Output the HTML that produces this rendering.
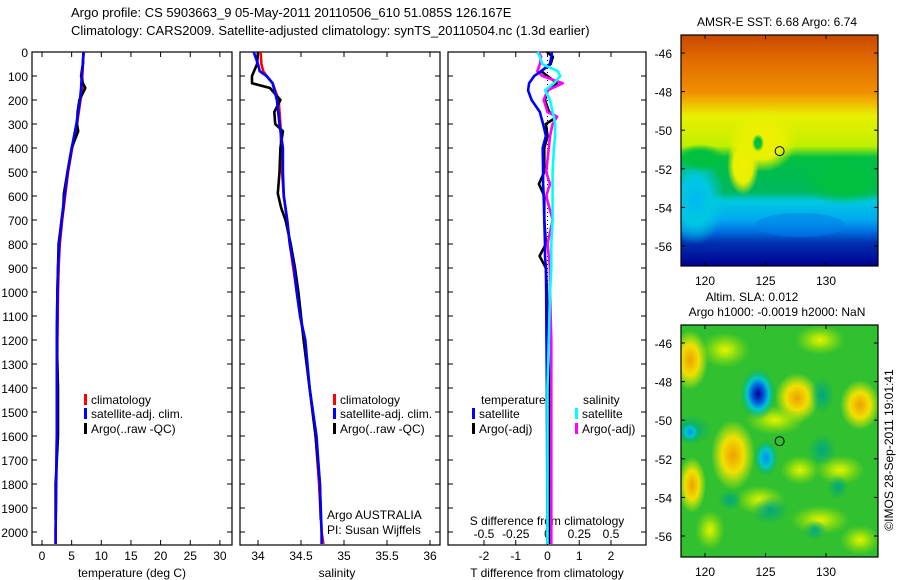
<!DOCTYPE html>
<html><head><meta charset="utf-8"><style>
body{margin:0;background:#fff;}
svg{display:block;font-family:"Liberation Sans",sans-serif;}
</style></head><body>
<svg id="c" width="900" height="580" viewBox="0 0 900 580">
<defs>
<linearGradient id="sstg" x1="0" y1="0" x2="0" y2="1">
<stop offset="0" stop-color="#c84800"/><stop offset="0.1" stop-color="#e06800"/>
<stop offset="0.25" stop-color="#f09000"/><stop offset="0.3" stop-color="#f0c000"/>
<stop offset="0.35" stop-color="#e8f000"/><stop offset="0.48" stop-color="#c0f000"/>
<stop offset="0.53" stop-color="#00c040"/><stop offset="0.68" stop-color="#00b860"/>
<stop offset="0.72" stop-color="#00c8e0"/><stop offset="0.8" stop-color="#00a8f0"/>
<stop offset="0.85" stop-color="#0070e0"/><stop offset="0.9" stop-color="#0030b0"/>
<stop offset="1" stop-color="#000090"/></linearGradient>
<radialGradient id="yb"><stop offset="0" stop-color="#f0f000"/><stop offset="0.6" stop-color="#e8f000"/><stop offset="1" stop-color="#e8f000" stop-opacity="0"/></radialGradient>
<radialGradient id="yb2"><stop offset="0" stop-color="#e8f000"/><stop offset="0.3" stop-color="#c8f000" stop-opacity="0.8"/><stop offset="1" stop-color="#a0e000" stop-opacity="0"/></radialGradient>
<radialGradient id="ob"><stop offset="0" stop-color="#f0a000"/><stop offset="0.5" stop-color="#f0e000"/><stop offset="1" stop-color="#e0f000" stop-opacity="0"/></radialGradient>
<radialGradient id="bb"><stop offset="0" stop-color="#000090"/><stop offset="0.35" stop-color="#0060e0"/><stop offset="0.6" stop-color="#00c8d0"/><stop offset="1" stop-color="#00b060" stop-opacity="0"/></radialGradient>
<radialGradient id="cb"><stop offset="0" stop-color="#0090f0"/><stop offset="0.5" stop-color="#00c8c8"/><stop offset="1" stop-color="#00a870" stop-opacity="0"/></radialGradient>
<radialGradient id="tb"><stop offset="0" stop-color="#00a880"/><stop offset="1" stop-color="#00a880" stop-opacity="0"/></radialGradient>
<radialGradient id="gb"><stop offset="0" stop-color="#00c040"/><stop offset="0.5" stop-color="#00c040"/><stop offset="1" stop-color="#00c040" stop-opacity="0"/></radialGradient>
<radialGradient id="lb"><stop offset="0" stop-color="#00b8f0"/><stop offset="0.5" stop-color="#00c8e0"/><stop offset="1" stop-color="#00c8e0" stop-opacity="0"/></radialGradient>
<clipPath id="m1c"><rect x="681" y="35" width="197" height="231"/></clipPath>
<clipPath id="m2c"><rect x="681" y="325" width="197" height="232"/></clipPath>
</defs>
<text x="71" y="17" font-size="13">Argo profile: CS 5903663_9 05-May-2011 20110506_610 51.085S 126.167E</text>
<text x="71" y="35" font-size="13">Climatology: CARS2009. Satellite-adjusted climatology: synTS_20110504.nc (1.3d earlier)</text>
<g id="plots"></g>
<g id="maps"></g>
</svg>
<script>
// ---- data (depth in m) ----
const tDepth=[0,50,100,150,200,300,400,500,600,700,800,900,1000,1200,1400,1600,1800,2000,2050];
const tClim=[7.0,6.9,6.8,6.8,6.5,5.9,5.1,4.4,3.9,3.4,3.0,2.8,2.7,2.6,2.5,2.5,2.4,2.3,2.3];
const tSat=[7.0,6.9,6.7,6.6,6.4,5.8,5.0,4.3,3.8,3.3,2.9,2.7,2.6,2.5,2.5,2.5,2.4,2.3,2.3];
const argoDepth=[0,50,100,130,150,200,250,300,330,400,500,590,650,700,800,900,1000,1200,1400,1600,1800,1950];
const tArgo=[7.0,6.9,6.6,6.9,7.3,6.3,6.0,5.9,6.1,5.0,4.3,3.7,3.6,3.3,2.8,2.7,2.6,2.5,2.7,2.7,2.3,2.3];
const sDepth=[0,50,80,100,130,200,300,400,500,600,700,800,900,1000,1100,1200,1400,1600,1800,2000,2050];
const sClim=[34.03,34.04,34.06,34.10,34.17,34.24,34.26,34.27,34.28,34.30,34.34,34.37,34.41,34.45,34.49,34.54,34.60,34.67,34.71,34.74,34.76];
const sSat=[33.95,34.0,34.02,34.1,34.17,34.22,34.25,34.29,34.29,34.30,34.34,34.37,34.42,34.45,34.49,34.55,34.60,34.68,34.72,34.74,34.74];
const sArgo=[34.0,33.99,33.93,33.93,34.14,34.26,34.19,34.2,34.29,34.26,34.25,34.23,34.27,34.32,34.38,34.43,34.47,34.53,34.60,34.67,34.72,34.73];
const dDepth=[0,20,50,80,100,130,160,200,250,270,300,350,400,500,550,600,700,800,850,900,1000,1200,1400,2050];
const dTSat=[0.14,0.12,0.08,-0.2,-0.42,-0.58,-0.61,-0.5,-0.24,-0.2,-0.14,-0.05,-0.15,-0.14,-0.14,-0.12,-0.1,-0.08,-0.08,-0.05,-0.04,-0.03,-0.02,0.0];
const dTArgo=[-0.02,0.17,0.1,-0.2,0.0,0.3,0.0,-0.08,0.05,0.3,-0.05,0.0,-0.1,-0.1,-0.27,-0.1,-0.1,-0.05,-0.25,-0.05,-0.02,0.02,0.05,0.05];
const dSArgo=[-0.07,-0.05,-0.06,-0.08,-0.04,0.12,0.0,-0.03,0.0,0.075,0.04,0.02,0.01,-0.01,0.02,-0.01,0.04,0.0,0.01,0.02,0.02,0.03,0.03,0.03];
const dSSat=[-0.08,-0.06,-0.04,0.08,0.1,0.05,-0.02,0.02,0.04,0.05,0.06,0.06,0.05,0.04,0.04,0.04,0.04,0.03,0.03,0.03,0.02,0.01,0.0,0.0];
const depthTicks=[0,100,200,300,400,500,600,700,800,900,1000,1100,1200,1300,1400,1500,1600,1700,1800,1900,2000];
const tTicks=[0,5,10,15,20,25,30];
const sTicks=["34","34.5","35","35.5","36"];
const dTTicks=["-2","-1","0","1","2"];
const dSTicks=["-0.5","-0.25","0","0.25","0.5"];
const lonTicks=[120,125,130];
const latTicks=[-46,-48,-50,-52,-54,-56];

const NS="http://www.w3.org/2000/svg";
const plots=document.getElementById('plots'), maps=document.getElementById('maps');
function mk(tag,attrs,parent,txt){const e=document.createElementNS(NS,tag);for(const k in attrs)e.setAttribute(k,attrs[k]);if(txt!==undefined)e.textContent=txt;parent.appendChild(e);return e;}
const Y0=52,Y1=545;
const yD=d=>Y0+d*0.24;
const xT=v=>42+v*5.93;
const xS=v=>258+(v-34)*86;
const xDT=v=>547.5+v*31.75;
const xDS=v=>547.5+v*127;

function panel(x0,x1,name){
  const r=mk('rect',{x:x0,y:Y0,width:x1-x0,height:Y1-Y0,fill:'none',stroke:'#000','stroke-width':1.2},plots);
  
  
  depthTicks.forEach(d=>{mk('line',{x1:x0,x2:x0+5,y1:yD(d),y2:yD(d),stroke:'#000'},plots);mk('line',{x1:x1-5,x2:x1,y1:yD(d),y2:yD(d),stroke:'#000'},plots);});
}
panel(32,232,'temperature-panel');panel(240,440,'salinity-panel');panel(448,646,'difference-panel');
depthTicks.forEach(d=>{const t=mk('text',{x:28,y:yD(d)+5,'font-size':12,'text-anchor':'end'},plots,String(d));
  
  });
function xticks(vals,f,labelY,name,top){vals.forEach(v=>{const x=f(+v);
  mk('line',{x1:x,x2:x,y1:Y1-5,y2:Y1,stroke:'#000'},plots);
  if(top)mk('line',{x1:x,x2:x,y1:Y0,y2:Y0+5,stroke:'#000'},plots);
  const t=mk('text',{x:x,y:labelY,'font-size':12,'text-anchor':'middle'},plots,String(v));
  
  });}
xticks(tTicks,xT,560,'temperature-tick-label',true);
xticks(sTicks,xS,560,'salinity-tick-label',true);
xticks(dTTicks,xDT,560,'t-diff-tick-label',true);
dSTicks.forEach(v=>{const t=mk('text',{x:xDS(+v),y:538,'font-size':12,'text-anchor':'middle'},plots,v);
  
  });
function lbl(x,y,s,name,anchor){const t=mk('text',{x:x,y:y,'font-size':12,'text-anchor':anchor||'start'},plots,s);
  
  return t;}
lbl(132,577,'temperature (deg C)','temperature-axis-title','middle');
lbl(337,577,'salinity','salinity-axis-title','middle');
lbl(547,577,'T difference from climatology','t-diff-axis-title','middle');
lbl(547,525,'S difference from climatology','s-diff-axis-title','middle');
lbl(327,519,'Argo AUSTRALIA','institution-label');
lbl(327,534,'PI: Susan Wijffels','pi-label');
const zl=mk('line',{x1:xDT(0),x2:xDT(0),y1:Y0,y2:Y1,stroke:'#000','stroke-dasharray':'1,3'},plots);


function series(depths,vals,fx,color,name){
  let d='';vals.forEach((v,i)=>{d+=(i?'L':'M')+fx(v).toFixed(1)+','+yD(depths[i]).toFixed(1);});
  const p=mk('path',{d:d,fill:'none',stroke:color,'stroke-width':2.6,'stroke-linejoin':'round'},plots);
  
  }
series(tDepth,tClim,xT,'#ff0000','temperature-climatology-line');
series(argoDepth,tArgo,xT,'#000000','temperature-argo-line');
series(tDepth,tSat,xT,'#0000ff','temperature-satellite-line');
series(sDepth,sClim,xS,'#ff0000','salinity-climatology-line');
series(argoDepth,sArgo,xS,'#000000','salinity-argo-line');
series(sDepth,sSat,xS,'#0000ff','salinity-satellite-line');
series(dDepth,dTArgo,xDT,'#000000','t-diff-argo-line');
series(dDepth,dSArgo,xDS,'#ff00ff','s-diff-argo-line');
series(dDepth,dTSat,xDT,'#0000ff','t-diff-satellite-line');
series(dDepth,dSSat,xDS,'#00ffff','s-diff-satellite-line');
function leg(x,y,color,s,name){const r=mk('rect',{x:x,y:y-10,width:3,height:11,fill:color},plots);
  
  
  lbl(x+7,y,s,name);}
[[84,'temperature'],[333,'salinity']].forEach(([x,n])=>{
  leg(x,404,'#ff0000','climatology',n+'-legend-climatology');
  leg(x,418,'#0000ff','satellite-adj. clim.',n+'-legend-satellite');
  leg(x,433,'#000000','Argo(..raw -QC)',n+'-legend-argo');});
lbl(481,404,'temperature','legend-temperature-header');
lbl(583,404,'salinity','legend-salinity-header');
leg(472,418,'#0000ff','satellite','legend-t-satellite');
leg(472,433,'#000000','Argo(-adj)','legend-t-argo');
leg(575,418,'#00ffff','satellite','legend-s-satellite');
leg(575,433,'#ff00ff','Argo(-adj)','legend-s-argo');

// ---- maps ----
const lonX=l=>705+(l-120)*12.1;
function mapAxes(top,name){
  const latY=l=>top+18+(-46-l)*19.3;
  const r=mk('rect',{x:681,y:top,width:197,height:top===35?231:232,fill:'none',stroke:'#000','stroke-width':1.2},maps);
  
  
  const bot=top+(top===35?231:232);
  latTicks.forEach(l=>{const y=latY(l);mk('line',{x1:681,x2:685,y1:y,y2:y,stroke:'#000'},maps);mk('line',{x1:874,x2:878,y1:y,y2:y,stroke:'#000'},maps);
    const t=mk('text',{x:672,y:y+5,'font-size':12,'text-anchor':'end'},maps,String(l));
    
    });
  lonTicks.forEach(l=>{const x=lonX(l);mk('line',{x1:x,x2:x,y1:bot-4,y2:bot,stroke:'#000'},maps);mk('line',{x1:x,x2:x,y1:top,y2:top+4,stroke:'#000'},maps);
    const t=mk('text',{x:x,y:bot+19,'font-size':12,'text-anchor':'middle'},maps,String(l));
    
    });
  const c=mk('circle',{cx:lonX(126.167),cy:latY(-51.085),r:4.5,fill:'none',stroke:'#000','stroke-width':1},maps);
  
  
}
const g1=mk('g',{'clip-path':'url(#m1c)'},maps);


mk('rect',{x:681,y:35,width:197,height:231,fill:'url(#sstg)'},g1);
mk('ellipse',{cx:695,cy:200,rx:30,ry:45,fill:'url(#lb)'},g1);
mk('ellipse',{cx:700,cy:158,rx:25,ry:14,fill:'url(#gb)'},g1);
mk('ellipse',{cx:762,cy:140,rx:35,ry:32,fill:'url(#yb)'},g1);
mk('ellipse',{cx:743,cy:165,rx:16,ry:30,fill:'url(#yb)'},g1);
mk('ellipse',{cx:758,cy:143,rx:6,ry:9,fill:'url(#gb)'},g1);
mk('ellipse',{cx:845,cy:180,rx:45,ry:25,fill:'url(#gb)'},g1);
mk('ellipse',{cx:800,cy:225,rx:45,ry:12,fill:'#0080e8',opacity:0.5},g1);
mapAxes(35,'sst-map');
const g2=mk('g',{'clip-path':'url(#m2c)'},maps);


mk('rect',{x:681,y:325,width:197,height:232,fill:'#30c030'},g2);
[[690,360,18,30,'ob'],[725,350,25,18,'yb2'],[733,455,22,35,'ob'],[692,485,14,28,'ob'],[797,398,22,25,'ob'],
 [860,405,20,25,'ob'],[775,420,30,15,'yb2'],[760,500,25,15,'yb2'],[820,520,30,15,'yb2'],[840,470,25,15,'yb2'],
 [860,540,20,15,'yb2'],[710,530,15,20,'yb2'],[800,470,20,15,'yb2'],[820,340,25,15,'yb2']].forEach(b=>{
  mk('ellipse',{cx:b[0],cy:b[1],rx:b[2],ry:b[3],fill:'url(#'+b[4]+')'},g2);});
[[690,430,22,15],[822,395,12,18],[822,450,14,16],[838,487,10,12],[770,510,18,14],[730,500,12,10],[815,530,12,10]].forEach(b=>{
  mk('ellipse',{cx:b[0],cy:b[1],rx:b[2],ry:b[3],fill:'url(#tb)'},g2);});
mk('ellipse',{cx:758,cy:394,rx:18,ry:26,fill:'url(#bb)'},g2);
mk('ellipse',{cx:766,cy:458,rx:12,ry:18,fill:'url(#cb)'},g2);
mk('ellipse',{cx:690,cy:432,rx:10,ry:10,fill:'url(#cb)'},g2);
mapAxes(325,'sla-map');
function mt(x,y,s,name){const t=mk('text',{x:x,y:y,'font-size':12,'text-anchor':'middle'},maps,s);
  
  }
mt(777,26,'AMSR-E SST: 6.68 Argo: 6.74','sst-map-title');
mt(752,301,'Altim. SLA: 0.012','sla-map-title');
mt(777,316,'Argo h1000: -0.0019 h2000: NaN','sla-map-subtitle');
const cr=mk('text',{x:0,y:0,'font-size':12,'text-anchor':'middle',transform:'translate(893,450) rotate(-90)'},maps,'©IMOS 28-Sep-2011 19:01:41');


</script>
</body></html>
